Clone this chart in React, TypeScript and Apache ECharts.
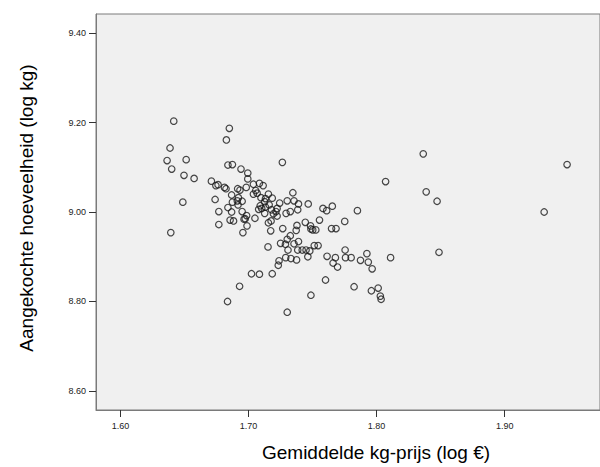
import React, { useEffect, useRef } from "react";
import * as echarts from "echarts";

const priceLog: number[] = [
  1.6416, 1.6387, 1.6364, 1.640, 1.6513, 1.6496, 1.6575, 1.6487, 1.6393, 1.6827,
  1.685, 1.6839, 1.6874, 1.671, 1.6762, 1.6745, 1.6812, 1.6824, 1.6739, 1.6768,
  1.6768, 1.6839, 1.6868, 1.6915, 1.6933, 1.6941, 1.6994, 1.6994, 1.6982, 1.6874,
  1.6921, 1.6912, 1.695, 1.6868, 1.6856, 1.6883, 1.695, 1.6974, 1.6965, 1.6985,
  1.6988, 1.6956, 1.7038, 1.7085, 1.7114, 1.7056, 1.7038, 1.7067, 1.7155, 1.7097,
  1.7185, 1.7126, 1.7243, 1.7161, 1.7091, 1.7103, 1.7079, 1.7132, 1.7126, 1.7179,
  1.7214, 1.7223, 1.7176, 1.7173, 1.705, 1.7267, 1.7302, 1.7346, 1.7355, 1.739,
  1.7384, 1.7326, 1.7293, 1.7466, 1.7378, 1.7372, 1.7326, 1.7302, 1.739, 1.7355,
  1.725, 1.7288, 1.7308, 1.7384, 1.7419, 1.7449, 1.7478, 1.7443, 1.7484, 1.7501,
  1.7525, 1.7487, 1.7513, 1.7543, 1.7554, 1.7581, 1.761, 1.7654, 1.7648, 1.7683,
  1.7751, 1.785, 1.7152, 1.7238, 1.7232, 1.729, 1.7331, 1.7375, 1.7463, 1.7613,
  1.7678, 1.766, 1.7695, 1.7754, 1.7757, 1.7801, 1.7874, 1.7924, 1.7935, 1.7965,
  1.7959, 1.8012, 1.8029, 1.8035, 1.7824, 1.7601, 1.7487, 1.7023, 1.7085, 1.7185,
  1.693, 1.6836, 1.7302, 1.807, 1.8109, 1.8364, 1.8387, 1.8472, 1.8487, 1.9308,
  1.9487, 1.7264, 1.7155, 1.7194, 1.7223, 1.7132, 1.6918,
];

const quantityLog: number[] = [
  9.203, 9.143, 9.115, 9.096, 9.117, 9.082, 9.075, 9.022, 8.954, 9.161,
  9.187, 9.105, 9.106, 9.069, 9.061, 9.059, 9.055, 9.052, 9.028, 9.001,
  8.972, 9.010, 9.038, 9.052, 9.049, 9.096, 9.087, 9.074, 9.055, 9.022,
  9.032, 9.025, 9.024, 9.000, 8.982, 8.980, 9.001, 8.985, 8.984, 8.992,
  8.969, 8.954, 9.062, 9.064, 9.059, 9.048, 9.040, 9.042, 9.040, 9.032,
  9.031, 9.023, 9.020, 9.016, 9.014, 9.008, 9.006, 9.011, 8.997, 9.005,
  9.001, 8.991, 8.980, 8.958, 8.986, 8.963, 9.025, 9.043, 9.025, 9.018,
  9.005, 9.001, 8.997, 9.018, 8.970, 8.959, 8.947, 8.939, 8.934, 8.929,
  8.930, 8.928, 8.915, 8.915, 8.915, 8.915, 8.913, 8.977, 8.969, 8.960,
  8.960, 8.962, 8.925, 8.925, 8.982, 9.008, 9.003, 9.013, 8.963, 8.963,
  8.979, 9.003, 8.922, 8.891, 8.881, 8.898, 8.896, 8.893, 8.900, 8.901,
  8.898, 8.886, 8.877, 8.915, 8.898, 8.898, 8.892, 8.907, 8.888, 8.873,
  8.824, 8.830, 8.812, 8.805, 8.833, 8.848, 8.814, 8.862, 8.861, 8.862,
  8.834, 8.800, 8.776, 9.068, 8.898, 9.130, 9.045, 9.024, 8.910, 9.000,
  9.106, 9.111, 8.976, 8.996, 9.008, 9.030, 9.016,
];

const xTicks: number[] = [1.6, 1.7, 1.8, 1.9];
const yTicks: number[] = [8.6, 8.8, 9.0, 9.2, 9.4];

const xTitle = "Gemiddelde kg-prijs (log €)";
const yTitle = "Aangekochte hoeveelheid (log kg)";

export default function App() {
  const ref = useRef<HTMLDivElement>(null);
  useEffect(() => {
    if (!ref.current) return;
    const chart = echarts.init(ref.current, undefined, { renderer: "svg" });
    const points = priceLog.map((x, i) => [x, quantityLog[i]]);
    const font = "'Liberation Sans', Arial, sans-serif";
    chart.setOption({
      animation: false,
      backgroundColor: "#ffffff",
      grid: {
        left: 96,
        top: 14,
        right: -10,
        bottom: 57,
        show: true,
        backgroundColor: "#f0f0f0",
        borderColor: "#7a7a7a",
        borderWidth: 1,
      },
      xAxis: {
        type: "value",
        min: 1.5809,
        max: 1.9744,
        axisLine: { show: true, lineStyle: { color: "#7a7a7a", width: 1 } },
        axisTick: {
          show: true,
          customValues: xTicks,
          length: 7,
          lineStyle: { color: "#333", width: 1 },
        },
        axisLabel: {
          customValues: xTicks,
          formatter: (v: number) => v.toFixed(2),
          fontSize: 9,
          fontFamily: font,
          color: "#222",
          margin: 11,
        },
        splitLine: { show: false },
      },
      yAxis: {
        type: "value",
        min: 8.5575,
        max: 9.4425,
        axisLine: { show: true, lineStyle: { color: "#7a7a7a", width: 1 } },
        axisTick: {
          show: true,
          customValues: yTicks,
          length: 7,
          lineStyle: { color: "#333", width: 1 },
        },
        axisLabel: {
          customValues: yTicks,
          formatter: (v: number) => v.toFixed(2),
          fontSize: 9,
          fontFamily: font,
          color: "#222",
          margin: 10,
        },
        splitLine: { show: false },
      },
      graphic: [
        {
          type: "text",
          x: 376,
          y: 452,
          style: {
            text: xTitle,
            fontSize: 19,
            fontFamily: font,
            fill: "#000",
            align: "center",
            verticalAlign: "middle",
          },
        },
        {
          type: "text",
          x: 26,
          y: 208,
          rotation: Math.PI / 2,
          style: {
            text: yTitle,
            fontSize: 19,
            fontFamily: font,
            fill: "#000",
            align: "center",
            verticalAlign: "middle",
          },
        },
      ],
      series: [
        {
          type: "scatter",
          data: points,
          symbol: "circle",
          symbolSize: 6.5,
          itemStyle: {
            color: "rgba(0,0,0,0)",
            borderColor: "#1a1a1a",
            borderWidth: 1.2,
          },
          emphasis: { disabled: true },
        },
      ],
    });
    return () => chart.dispose();
  }, []);
  return (
    <div
      ref={ref}
      style={{ position: "fixed", left: 0, top: 0, width: 600, height: 467 }}
    />
  );
}
